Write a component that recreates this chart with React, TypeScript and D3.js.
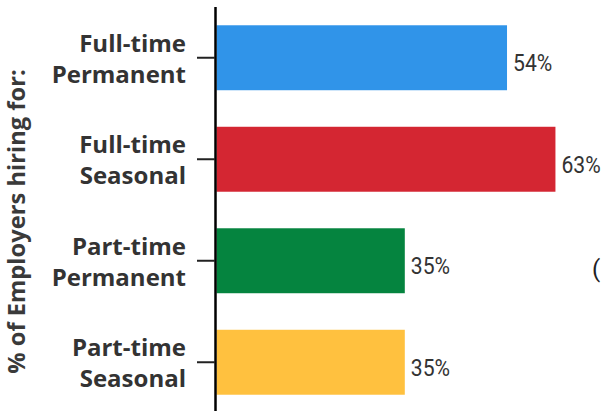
import { scaleBand, scaleLinear, select } from "d3";
import { useEffect, useRef } from "react";

const categories = [
  ["Full-time", "Permanent"],
  ["Full-time", "Seasonal"],
  ["Part-time", "Permanent"],
  ["Part-time", "Seasonal"]
];
const shares = [54, 63, 35, 35];
const barColors = ["#3094e9", "#d42632", "#05843f", "#ffc13f"];
const axisTitle = "% of Employers hiring for:";

const width = 602;
const height = 411;

const App = () => {
  const svgRef = useRef<SVGSVGElement>(null);

  useEffect(() => {
    const svg = select(svgRef.current);
    svg.selectAll("*").remove();

    const keys = categories.map((c) => c.join(" "));

    // Y scale (bands)
    const yScale = scaleBand()
      .domain(keys)
      .range([7, 7 + 4 * 101.5])
      .paddingInner(0.36)
      .paddingOuter(0.18);

    // X scale
    const xScale = scaleLinear().domain([0, 100]).range([216.5, 216.5 + 538]);

    const rows = keys.map((k, i) => ({ key: k, lines: categories[i], value: shares[i], color: barColors[i] }));

    // bars
    svg
      .selectAll("rect.bar")
      .data(rows)
      .join("rect")
      .attr("class", "bar")
      .attr("x", xScale(0))
      .attr("y", (d) => yScale(d.key)!)
      .attr("width", (d) => xScale(d.value) - xScale(0))
      .attr("height", yScale.bandwidth())
      .attr("fill", (d) => d.color);

    // value labels
    svg
      .selectAll("text.value")
      .data(rows)
      .join("text")
      .attr("class", "value")
      .attr(
        "transform",
        (d) => `translate(${xScale(d.value) + 6},${yScale(d.key)! + yScale.bandwidth() / 2 + 13.5}) scale(0.88,1)`
      )
      .attr("font-family", "Roboto, sans-serif")
      .attr("font-size", 24)
      .attr("fill", "#333")
      .text((d) => `${d.value}%`);

    // axis line
    svg
      .append("line")
      .attr("x1", 215.5)
      .attr("x2", 215.5)
      .attr("y1", yScale.range()[0])
      .attr("y2", yScale.range()[1])
      .attr("stroke", "#000")
      .attr("stroke-width", 2.5);

    // ticks
    svg
      .selectAll("line.tick")
      .data(rows)
      .join("line")
      .attr("class", "tick")
      .attr("x1", 197)
      .attr("x2", 215)
      .attr("y1", (d) => yScale(d.key)! + yScale.bandwidth() / 2)
      .attr("y2", (d) => yScale(d.key)! + yScale.bandwidth() / 2)
      .attr("stroke", "#222")
      .attr("stroke-width", 2);

    // category labels
    const labels = svg
      .selectAll("text.cat")
      .data(rows)
      .join("text")
      .attr("class", "cat")
      .attr("text-anchor", "end")
      .attr("font-family", "'Open Sans', sans-serif")
      .attr("font-weight", 700)
      .attr("font-size", 24)
      .attr("fill", "#333");

    labels
      .selectAll("tspan")
      .data((d) => d.lines.map((t, j) => ({ t, j, c: yScale(d.key)! + yScale.bandwidth() / 2 })))
      .join("tspan")
      .attr("x", 186)
      .attr("y", (l) => (l.j === 0 ? l.c - 6 : l.c + 25))
      .text((l) => l.t);

    // y title
    svg
      .append("text")
      .attr("transform", `translate(24.5,221.5) rotate(-90)`)
      .attr("text-anchor", "middle")
      .attr("font-family", "'Open Sans', sans-serif")
      .attr("font-weight", 700)
      .attr("font-size", 23.7)
      .attr("fill", "#3a3a3a")
      .text(axisTitle);

    // clipped note at the right edge
    svg
      .append("text")
      .attr("x", 592)
      .attr("y", 277)
      .attr("font-family", "Roboto, sans-serif")
      .attr("font-size", 24)
      .attr("fill", "#222")
      .text("(");
  }, []);

  return (
    <svg
      ref={svgRef}
      width={width}
      height={height}
      style={{ position: "absolute", left: 0, top: 0, background: "#fff" }}
    ></svg>
  );
};

export default App;
